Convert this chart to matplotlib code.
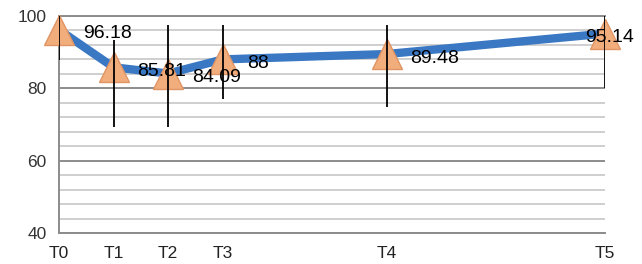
import matplotlib.pyplot as plt
import numpy as np

times = [0, 1, 2, 3, 6, 10]
tick_labels = ['T0', 'T1', 'T2', 'T3', 'T4', 'T5']
values = [96.18, 85.81, 84.09, 88, 89.48, 95.14]
err_low = [87.8, 69.3, 69.3, 77.1, 74.8, 80.0]
err_high = [100.0, 93.4, 97.5, 97.5, 97.5, 100.0]

fig = plt.figure(figsize=(6.42, 2.64), dpi=100)
ax = fig.add_axes([0.0919, 0.1174, 0.8505, 0.822])

ax.set_xlim(0, 10)
ax.set_ylim(40, 100)

# grid: major every 20, minor every 4
ax.set_yticks([40, 60, 80, 100])
ax.set_yticks(np.arange(40, 101, 4), minor=True)
ax.grid(axis='y', which='minor', color='#cccccc', linewidth=1.3, zorder=0)
ax.grid(axis='y', which='major', color='#8c8c8c', linewidth=1.4, zorder=0)
ax.tick_params(axis='y', which='both', length=0, pad=9, labelsize=12.5, labelcolor='#333333')
ax.tick_params(axis='x', length=0, pad=9, labelsize=12.5, labelcolor='#222222')
for lab in ax.get_yticklabels() + ax.get_xticklabels():
    lab.set_family('Liberation Sans')

ax.set_xticks(times)
ax.set_xticklabels(tick_labels)

ax.spines['right'].set_visible(False)
for s in ['left', 'bottom', 'top']:
    ax.spines[s].set_color('#8c8c8c')
    ax.spines[s].set_linewidth(1.4)

vals = np.array(values)
yerr = [vals - np.array(err_low), np.array(err_high) - vals]

ax.plot(times, values, color='#3b78c4', linewidth=6, solid_capstyle='round', zorder=3)
ax.plot(times, values, linestyle='none', marker='^', markersize=21,
        markerfacecolor='#f2ad7c', markeredgecolor='#e09566', markeredgewidth=1,
        zorder=4, clip_on=False)
ax.errorbar(times, values, yerr=yerr, fmt='none', ecolor='black', elinewidth=1.3,
            capsize=0, zorder=5)

for i, (t, v) in enumerate(zip(times, values)):
    dx = 24 if i < len(values) - 1 else -20
    ax.annotate(f'{v:g}', (t, v), xytext=(dx * 0.72, -3), textcoords='offset points',
                ha='left', va='center', fontsize=14, color='black',
                family=['Liberation Sans', 'DejaVu Sans'], zorder=6,
                annotation_clip=False)

fig.savefig('out.png', dpi=100)
